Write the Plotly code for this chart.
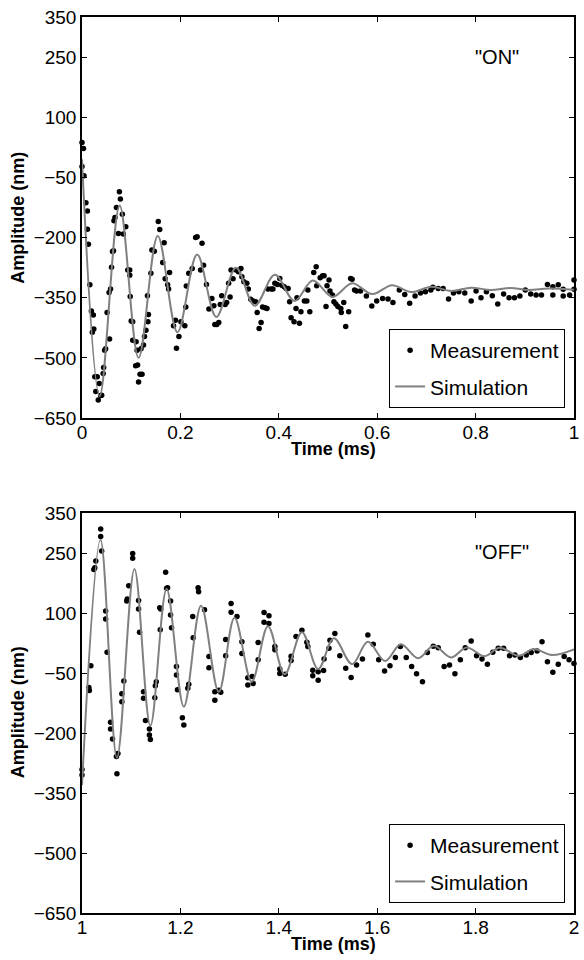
import plotly.graph_objects as go

# ---------------- data ----------------
x_ticks_on = [0, 0.2, 0.4, 0.6, 0.8, 1.0]
x_ticklabels_on = ["0", "0.2", "0.4", "0.6", "0.8", "1"]
x_ticks_off = [1.0, 1.2, 1.4, 1.6, 1.8, 2.0]
x_ticklabels_off = ["1", "1.2", "1.4", "1.6", "1.8", "2"]
y_ticks = [350, 250, 100, -50, -200, -350, -500, -650]

on_t = [0.000, 0.003, 0.000, 0.004, 0.008, 0.011, 0.011, 0.013, 0.016, 0.019, 0.023, 0.021, 0.024,
        0.026, 0.031, 0.028, 0.035, 0.033, 0.038, 0.040, 0.043, 0.044, 0.046, 0.048, 0.056, 0.051,
        0.055, 0.058, 0.060, 0.062, 0.064, 0.065, 0.067, 0.070, 0.074, 0.076, 0.078, 0.082, 0.084,
        0.089, 0.093, 0.097, 0.097, 0.098, 0.100, 0.103, 0.103, 0.110, 0.112, 0.109, 0.113, 0.115,
        0.118, 0.122, 0.120, 0.125, 0.127, 0.130, 0.134, 0.135, 0.133, 0.140, 0.142, 0.147, 0.155,
        0.158, 0.167, 0.164, 0.169, 0.174, 0.178, 0.176, 0.186, 0.190, 0.192, 0.197, 0.201, 0.209,
        0.211, 0.212, 0.217, 0.224, 0.231, 0.234, 0.244, 0.241, 0.247, 0.253, 0.258, 0.264, 0.268,
        0.270, 0.274, 0.278, 0.281, 0.284, 0.291, 0.294, 0.298, 0.301, 0.303, 0.307, 0.313, 0.318,
        0.323, 0.325, 0.329, 0.335, 0.338, 0.343, 0.348, 0.353, 0.356, 0.364, 0.360, 0.367, 0.372,
        0.376, 0.378, 0.385, 0.388, 0.392, 0.397, 0.402, 0.406, 0.411, 0.415, 0.419, 0.422, 0.425,
        0.431, 0.435, 0.437, 0.442, 0.445, 0.452, 0.457, 0.459, 0.463, 0.471, 0.476, 0.477, 0.484,
        0.489, 0.492, 0.496, 0.498, 0.502, 0.504, 0.509, 0.512, 0.516, 0.520, 0.526, 0.527, 0.532,
        0.536, 0.542, 0.546, 0.549, 0.554, 0.558, 0.566, 0.578, 0.589, 0.599, 0.611, 0.622, 0.632,
        0.645, 0.656, 0.666, 0.677, 0.688, 0.698, 0.709, 0.713, 0.724, 0.734, 0.745, 0.755, 0.766,
        0.778, 0.791, 0.801, 0.811, 0.822, 0.834, 0.845, 0.857, 0.868, 0.879, 0.890, 0.901, 0.912,
        0.923, 0.934, 0.946, 0.957, 0.957, 0.968, 0.978, 0.978, 0.991, 1.000, 1.000]
on_amp = [37, 22, -23, -46, -113, -134, -179, -217, -318, -383, -393, -436, -428,
          -547, -547, -584, -564, -605, -594, -593, -539, -524, -481, -477, -453, -387,
          -337, -328, -274, -235, -233, -158, -150, -125, -190, -86, -104, -142, -191,
          -173, -281, -294, -281, -347, -408, -410, -456, -460, -481, -520, -518, -560,
          -541, -541, -477, -468, -447, -431, -410, -392, -345, -289, -231, -234, -160,
          -180, -213, -262, -303, -318, -287, -328, -420, -406, -476, -447, -410, -420,
          -373, -321, -289, -277, -200, -198, -214, -281, -269, -317, -378, -352, -370,
          -417, -417, -412, -367, -345, -367, -362, -314, -348, -281, -303, -281, -285,
          -277, -298, -310, -314, -328, -354, -358, -360, -387, -412, -427, -373, -375,
          -377, -328, -328, -328, -314, -317, -302, -319, -323, -327, -327, -360, -400,
          -410, -377, -350, -414, -385, -358, -358, -331, -385, -287, -273, -320, -300,
          -295, -295, -372, -320, -306, -333, -343, -360, -366, -372, -377, -387, -362,
          -422, -385, -302, -304, -331, -333, -333, -346, -371, -358, -352, -353, -362,
          -331, -342, -364, -346, -338, -335, -331, -324, -327, -327, -353, -338, -335,
          -338, -358, -333, -350, -335, -345, -366, -341, -350, -350, -346, -331, -341,
          -343, -343, -317, -323, -343, -318, -329, -346, -343, -306, -329]

on_sim_t = [0.000, 0.036, 0.0765, 0.115, 0.154, 0.194, 0.234, 0.273, 0.313, 0.351, 0.392, 0.432,
            0.469, 0.509, 0.549, 0.590, 0.630, 0.669, 0.710, 0.750, 0.791, 0.831, 0.871, 0.909,
            0.948, 1.000]
on_sim_amp = [-5, -595, -120, -500, -196, -436, -242, -398, -275, -370, -293, -358,
              -307, -348, -314, -341, -319, -336, -323, -333, -325, -331, -326, -331,
              -327, -330]

off_t = [1.000, 1.000, 1.014, 1.015, 1.018, 1.024, 1.026, 1.028, 1.038, 1.038, 1.040, 1.048, 1.048,
         1.051, 1.058, 1.058, 1.062, 1.070, 1.073, 1.071, 1.081, 1.081, 1.085, 1.091, 1.092, 1.095,
         1.103, 1.103, 1.115, 1.115, 1.117, 1.125, 1.125, 1.129, 1.137, 1.137, 1.139, 1.148, 1.149,
         1.151, 1.158, 1.160, 1.159, 1.170, 1.172, 1.174, 1.180, 1.180, 1.182, 1.192, 1.192, 1.194,
         1.204, 1.207, 1.215, 1.217, 1.226, 1.225, 1.236, 1.237, 1.249, 1.258, 1.258, 1.270, 1.270,
         1.278, 1.282, 1.292, 1.292, 1.303, 1.303, 1.315, 1.325, 1.325, 1.337, 1.337, 1.346, 1.348,
         1.358, 1.358, 1.370, 1.370, 1.380, 1.380, 1.392, 1.392, 1.402, 1.402, 1.413, 1.425, 1.425,
         1.435, 1.447, 1.457, 1.459, 1.469, 1.469, 1.480, 1.480, 1.491, 1.492, 1.502, 1.504, 1.514,
         1.524, 1.536, 1.547, 1.558, 1.570, 1.581, 1.592, 1.603, 1.615, 1.626, 1.637, 1.647, 1.659,
         1.670, 1.680, 1.692, 1.702, 1.714, 1.724, 1.736, 1.747, 1.758, 1.769, 1.779, 1.791, 1.802,
         1.813, 1.824, 1.835, 1.846, 1.857, 1.869, 1.880, 1.891, 1.903, 1.913, 1.925, 1.935, 1.946,
         1.957, 1.968, 1.980, 1.990, 2.000]
off_amp = [-305, -291, -86, -94, -32, 209, 213, 230, 310, 291, 255, 105, 85,
           2, -173, -190, -215, -259, -251, -302, -122, -102, -70, 130, 135, 168,
           249, 237, 131, 110, 52, -97, -113, -169, -190, -205, -216, -112, -82,
           -72, 113, 110, 58, 202, 162, 163, 130, 95, 63, -34, -55, -92,
           -162, -180, -88, -78, 38, 91, 163, 153, 108, -9, -37, -97, -118,
           -93, -98, -7, 34, 124, 102, 91, 28, -1, -62, -80, -59, -76,
           -17, 26, 101, 77, 93, 74, 16, 8, -40, -51, -53, -8, -19,
           41, 57, 27, 16, -43, -57, -68, -47, -44, -15, 12, 32, 49,
           -7, -38, -61, -30, -15, 45, 22, -17, -45, -32, -11, 16, -11,
           -34, -52, -72, 1, 17, 13, -34, -30, -52, -17, 13, 30, -7,
           -15, -28, 2, 12, 12, -7, -5, -11, -5, 1, 5, 28, -22,
           -48, -28, -9, -17, -26]

off_sim_t = [1.000, 1.0376, 1.071, 1.1066, 1.139, 1.172, 1.207, 1.242, 1.278, 1.310, 1.345, 1.378,
             1.412, 1.447, 1.480, 1.512, 1.549, 1.581, 1.616, 1.648, 1.683, 1.715, 1.750, 1.782,
             1.818, 1.849, 1.888, 1.918, 1.955, 2.000]
off_sim_amp = [-330, 283, -262, 210, -182, 160, -134, 118, -97, 88, -72, 67,
               -53, 52, -40, 37, -28, 28, -20, 22, -13, 18, -11, 14,
               -8, 13, -7, 10, -5, 9]

# ---------------- figure ----------------
FONT = "Liberation Sans, Arial, Helvetica, sans-serif"
SIM_COLOR = "#808080"

fig = go.Figure()

fig.add_trace(go.Scatter(x=on_t, y=on_amp, mode="markers", name="Measurement",
                         marker=dict(color="black", size=5.5), cliponaxis=False,
                         xaxis="x", yaxis="y", legend="legend", legendgroup="m1"))
fig.add_trace(go.Scatter(x=on_sim_t, y=on_sim_amp, mode="lines", name="Simulation",
                         line=dict(color=SIM_COLOR, width=2, shape="spline", smoothing=1),
                         xaxis="x", yaxis="y", legend="legend", legendgroup="s1"))
fig.add_trace(go.Scatter(x=off_t, y=off_amp, mode="markers", name="Measurement",
                         marker=dict(color="black", size=5.5), cliponaxis=False,
                         xaxis="x2", yaxis="y2", legend="legend2", legendgroup="m2"))
fig.add_trace(go.Scatter(x=off_sim_t, y=off_sim_amp, mode="lines", name="Simulation",
                         line=dict(color=SIM_COLOR, width=2, shape="spline", smoothing=1),
                         xaxis="x2", yaxis="y2", legend="legend2", legendgroup="s2"))

axis_common = dict(showline=True, linecolor="black", linewidth=1.5, mirror="ticks",
                   ticks="inside", ticklen=5, tickwidth=1, tickcolor="black",
                   showgrid=False, zeroline=False,
                   tickfont=dict(family=FONT, size=19, color="black"))

top_lo = (913 - 418) / 896
bot_hi = (913 - 513) / 896

fig.update_layout(
    width=584, height=960,
    margin=dict(l=82, r=5, t=17, b=47),
    paper_bgcolor="white", plot_bgcolor="white",
    font=dict(family=FONT, color="black"),
    xaxis=dict(domain=[0, 1], range=[0, 1], anchor="y", ticklabelstandoff=-4,
               tickvals=x_ticks_on, ticktext=x_ticklabels_on, **axis_common),
    yaxis=dict(domain=[top_lo, 1], range=[-650, 350], anchor="x",
               tickvals=y_ticks, **axis_common),
    xaxis2=dict(domain=[0, 1], range=[1, 2], anchor="y2", ticklabelstandoff=-4,
                tickvals=x_ticks_off, ticktext=x_ticklabels_off, **axis_common),
    yaxis2=dict(domain=[0, bot_hi], range=[-650, 350], anchor="x2",
                tickvals=y_ticks, **axis_common),
    legend=dict(x=(570 - 82) / 497, xanchor="right", y=(913 - 408) / 896, yanchor="bottom",
                bgcolor="white", bordercolor="black", borderwidth=1,
                font=dict(family=FONT, size=21, color="black"), tracegroupgap=6),
    legend2=dict(x=(570 - 82) / 497, xanchor="right", y=(913 - 903) / 896, yanchor="bottom",
                 bgcolor="white", bordercolor="black", borderwidth=1,
                 font=dict(family=FONT, size=21, color="black"), tracegroupgap=6),
    showlegend=True,
)

ann_font = dict(family=FONT, size=20, color="black")
title_font = dict(family=FONT, size=18, color="black")
fig.add_annotation(text='"ON"', x=0.843, y=251, xref="x", yref="y", showarrow=False, font=ann_font)
fig.add_annotation(text='"OFF"', x=1.8545, y=252, xref="x2", yref="y2", showarrow=False, font=ann_font)

fig.add_annotation(text="<b>Time (ms)</b>", x=(336 - 82) / 497, y=(913 - 449) / 896,
                   xref="paper", yref="paper", showarrow=False, font=title_font,
                   xanchor="center", yanchor="middle")
fig.add_annotation(text="<b>Time (ms)</b>", x=(336 - 82) / 497, y=(913 - 944) / 896,
                   xref="paper", yref="paper", showarrow=False, font=title_font,
                   xanchor="center", yanchor="middle")
fig.add_annotation(text="<b>Amplitude (nm)</b>", x=(17.5 - 82) / 497, y=(913 - 217.5) / 896,
                   xref="paper", yref="paper", showarrow=False, font=title_font, textangle=-90,
                   xanchor="center", yanchor="middle")
fig.add_annotation(text="<b>Amplitude (nm)</b>", x=(17.5 - 82) / 497, y=(913 - 712) / 896,
                   xref="paper", yref="paper", showarrow=False, font=title_font, textangle=-90,
                   xanchor="center", yanchor="middle")

fig.write_html(
    "out.html",
    config={"displayModeBar": False},
    post_script="document.body.style.margin='0';document.body.style.overflow='hidden';",
)
